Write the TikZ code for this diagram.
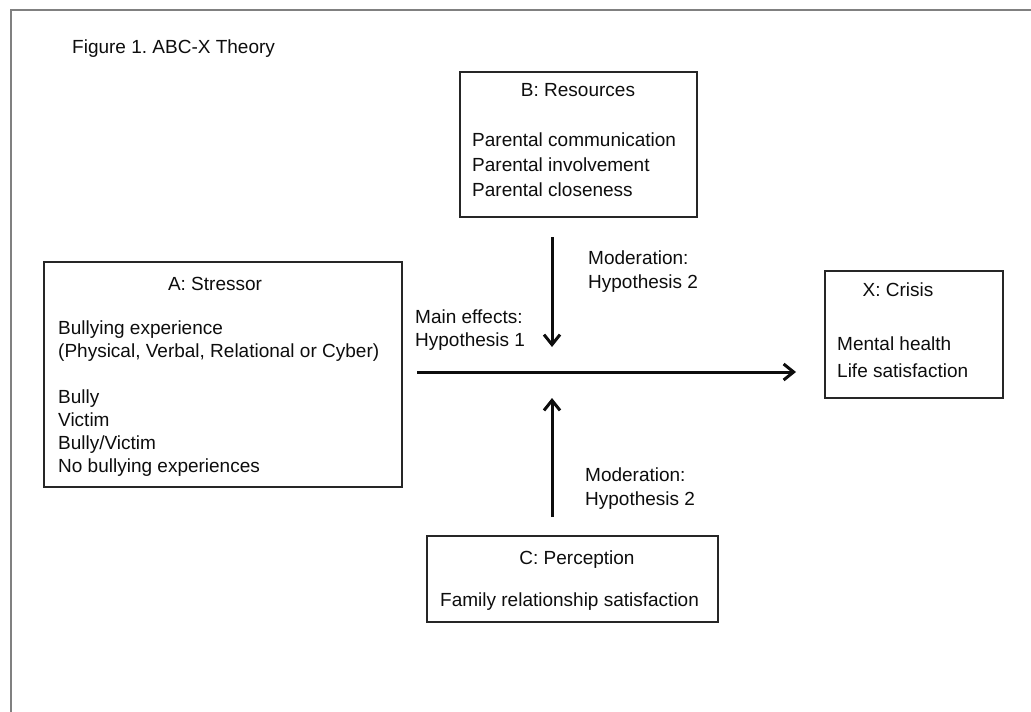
\documentclass[tikz,border=0pt]{standalone}
\usepackage{fontspec}
\setsansfont{Liberation Sans}
\usetikzlibrary{arrows.meta}

\begin{document}
\begin{tikzpicture}[x=1pt,y=-1pt,>={Straight Barb[length=10pt,width=16pt]},
    box/.style={rectangle,draw=black!85,line width=1.3pt,inner sep=0pt,outer sep=0pt},
    head/.style={font=\sffamily\fontsize{19}{23}\selectfont,text=black!95,inner sep=0pt,anchor=base},
    body/.style={font=\sffamily\fontsize{19}{23}\selectfont,text=black!95,inner sep=0pt,align=left,anchor=north west},
    link/.style={->,line width=3pt,black!95}]
    \useasboundingbox (0,0) rectangle (1031,712);
    \draw[black!50,line width=2pt] (11,712) -- (11,10) -- (1031,10);

    \node[head,anchor=base west] (title) at (72,53) {Figure 1.\ ABC-X Theory};

    % the four boxes
    \node[box,minimum width=358pt,minimum height=225pt] (A) at (223,374.5) {};
    \node[box,minimum width=237pt,minimum height=145pt] (B) at (578.5,144.5) {};
    \node[box,minimum width=178pt,minimum height=127pt] (X) at (914,334.5) {};
    \node[box,minimum width=291pt,minimum height=86pt] (C) at (572.5,579) {};

    \node[head] (Ahead) at (215,290) {A: Stressor};
    \node[body] (Atext) at (58,320.3) {Bullying experience\\(Physical, Verbal, Relational or Cyber)\\[23pt]Bully\\Victim\\Bully/Victim\\No bullying experiences};
    \node[head] (Bhead) at (578,96) {B: Resources};
    \node[body] (Btext) at (472,132.3) {Parental communication\\[2pt]Parental involvement\\[2pt]Parental closeness};
    \node[head] (Xhead) at (898,296) {X: Crisis};
    \node[body] (Xtext) at (837,336.3) {Mental health\\[4pt]Life satisfaction};
    \node[head] (Chead) at (577,564) {C: Perception};
    \node[head,anchor=base west] (Ctext) at (440,606) {Family relationship satisfaction};

    % arrows and their labels
    \coordinate (hub) at (552,372);
    \draw[link,shorten <=15pt,shorten >=29pt] (A.east |- hub) -- (X.west |- hub);
    \draw[link,shorten <=20pt,shorten >=25pt] (B.south -| hub) -- (hub);
    \draw[link,shorten <=19pt,shorten >=26pt] (C.north -| hub) -- (hub);

    \node[body] (mainlab) at (415,309.3) {Main effects:\\Hypothesis 1};
    \node[body] (modtop) at (588,250.3) {Moderation:\\[1pt]Hypothesis 2};
    \node[body] (modbot) at (585,467.3) {Moderation:\\[1pt]Hypothesis 2};
\end{tikzpicture}
\end{document}
